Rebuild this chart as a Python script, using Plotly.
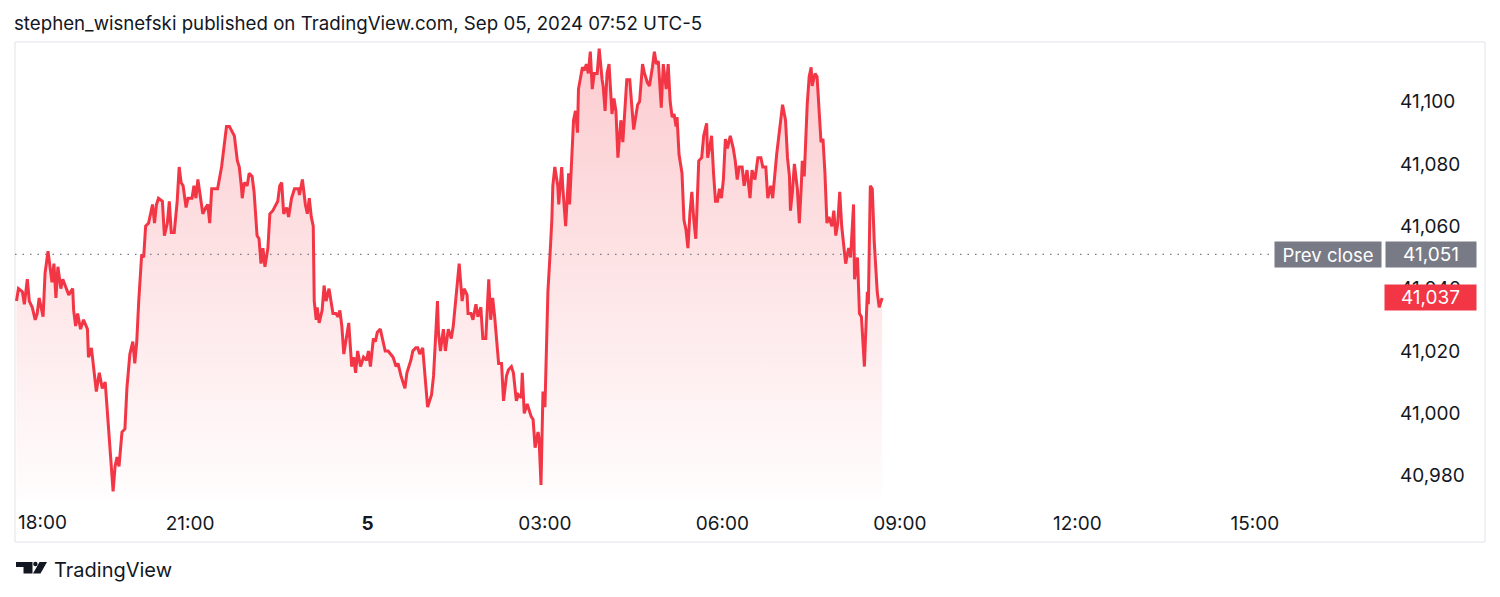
import plotly.graph_objects as go

# ---------------- data ----------------
# minutes elapsed since Sep 04 18:00 (UTC-5)
minutes = [
    4, 6, 10, 12, 15, 17, 20, 23, 25, 27, 31, 33, 36, 40, 42, 44, 46, 49, 51, 55,
    57, 61, 62, 64, 66, 69, 72, 76, 77, 80, 82, 85, 88, 91, 94, 96, 99, 102, 104, 106,
    108, 111, 114, 116, 119, 122, 124, 126, 128, 131, 133, 135, 138, 142, 144, 146, 148, 152, 154, 157,
    159, 161, 164, 167, 169, 171, 173, 176, 178, 182, 184, 186, 188, 191, 193, 196, 198, 200, 202, 205,
    208, 212, 214, 217, 220, 223, 225, 228, 230, 232, 233, 235, 238, 240, 243, 245, 248, 250, 252, 254,
    256, 259, 261, 264, 267, 269, 271, 273, 275, 278, 280, 283, 286, 290, 291, 294, 297, 299, 301, 303,
    305, 306, 308, 309, 311, 314, 316, 318, 321, 324, 325, 328, 330, 332, 334, 336, 339, 341, 344, 346,
    348, 350, 353, 356, 359, 361, 363, 366, 368, 370, 373, 376, 378, 381, 384, 386, 389, 391, 394, 396,
    398, 400, 404, 406, 409, 411, 413, 416, 418, 420, 421, 425, 427, 429, 431, 432, 434, 437, 439, 442,
    445, 447, 450, 453, 456, 458, 461, 462, 465, 467, 470, 472, 475, 477, 480, 482, 483, 485, 487, 489,
    493, 496, 498, 501, 503, 506, 508, 511, 513, 516, 517, 519, 522, 524, 526, 528, 530, 533, 534, 536,
    537, 538, 540, 542, 543, 545, 547, 548, 550, 553, 554, 557, 558, 561, 564, 565, 567, 569, 571, 573,
    574, 577, 578, 580, 582, 584, 586, 588, 590, 593, 595, 598, 599, 601, 603, 605, 608, 610, 612, 614,
    617, 619, 621, 623, 626, 628, 630, 634, 636, 639, 641, 644, 646, 649, 651, 653, 655, 658, 660, 663,
    665, 667, 669, 671, 673, 674, 676, 679, 681, 683, 685, 687, 689, 691, 693, 694, 696, 699, 701, 704,
    705, 707, 709, 711, 713, 715, 717, 719, 721, 723, 725, 728, 731, 733, 735, 737, 740, 742, 745, 748,
    750, 753, 756, 759, 761, 764, 766, 769, 771, 775, 777, 779, 781, 784, 786, 788, 789, 791, 793, 796,
    798, 800, 801, 803, 806, 808, 810, 811, 814, 816, 818, 820, 822, 824, 826, 828, 831, 833, 835, 837,
    839, 841, 845, 848, 850, 852, 853, 854, 857, 859, 861, 864, 867, 868, 870, 872, 873, 874, 877, 879, 882,
]
prices = [
    41036, 41040, 41039, 41035, 41043, 41036, 41034, 41030, 41032, 41037, 41031, 41045, 41052, 41042, 41048, 41037, 41047, 41040, 41043, 41040,
    41038, 41040, 41033, 41028, 41032, 41027, 41030, 41027, 41018, 41021, 41015, 41007, 41013, 41008, 41010, 41001, 40989, 40975, 40983, 40986,
    40983, 40994, 40995, 41008, 41019, 41023, 41016, 41023, 41036, 41051, 41050, 41060, 41061, 41067, 41061, 41067, 41069, 41068, 41057, 41061,
    41068, 41058, 41058, 41068, 41079, 41074, 41073, 41066, 41069, 41069, 41073, 41069, 41075, 41068, 41064, 41066, 41067, 41061, 41072, 41072,
    41072, 41079, 41085, 41092, 41092, 41090, 41089, 41081, 41079, 41073, 41069, 41074, 41073, 41077, 41076, 41071, 41057, 41056, 41048, 41053,
    41047, 41053, 41064, 41065, 41067, 41068, 41073, 41074, 41064, 41066, 41063, 41069, 41072, 41072, 41070, 41075, 41067, 41064, 41069, 41063,
    41060, 41036, 41030, 41034, 41029, 41033, 41041, 41036, 41040, 41034, 41032, 41032, 41031, 41033, 41028, 41019, 41026, 41029, 41015, 41018,
    41013, 41020, 41015, 41018, 41017, 41020, 41015, 41024, 41023, 41026, 41027, 41023, 41020, 41020, 41019, 41018, 41015, 41016, 41012, 41010,
    41008, 41013, 41017, 41020, 41021, 41021, 41019, 41021, 41013, 41007, 41002, 41006, 41012, 41024, 41036, 41026, 41020, 41027, 41020, 41027,
    41024, 41028, 41037, 41048, 41036, 41040, 41038, 41032, 41032, 41030, 41035, 41031, 41034, 41024, 41024, 41040, 41043, 41030, 41037, 41031,
    41016, 41016, 41004, 41012, 41014, 41015, 41013, 41004, 41006, 41005, 41013, 41000, 41003, 41001, 40999, 40998, 40989, 40994, 40992, 40977,
    40991, 41007, 41002, 41023, 41039, 41050, 41062, 41073, 41079, 41073, 41067, 41079, 41073, 41060, 41077, 41067, 41082, 41094, 41097, 41090,
    41104, 41109, 41111, 41110, 41112, 41109, 41116, 41104, 41109, 41109, 41117, 41107, 41105, 41097, 41109, 41112, 41096, 41101, 41097, 41082,
    41094, 41087, 41096, 41107, 41107, 41099, 41091, 41099, 41100, 41112, 41109, 41106, 41105, 41111, 41116, 41112, 41113, 41098, 41112, 41104,
    41112, 41100, 41095, 41096, 41092, 41095, 41083, 41077, 41062, 41059, 41053, 41064, 41071, 41062, 41056, 41064, 41081, 41082, 41089, 41093,
    41082, 41085, 41089, 41077, 41068, 41068, 41072, 41069, 41075, 41088, 41085, 41089, 41085, 41081, 41075, 41079, 41079, 41073, 41078, 41069,
    41078, 41075, 41082, 41082, 41079, 41079, 41069, 41073, 41069, 41083, 41089, 41095, 41099, 41094, 41082, 41076, 41065, 41071, 41080, 41072,
    41061, 41073, 41081, 41076, 41099, 41108, 41111, 41105, 41109, 41108, 41096, 41087, 41088, 41077, 41061, 41063, 41060, 41065, 41057, 41061,
    41071, 41060, 41048, 41053, 41050, 41064, 41067, 41043, 41050, 41032, 41031, 41015, 41039, 41035, 41073, 41072, 41064, 41055, 41039, 41034, 41037,
]
assert len(minutes) == len(prices)

prev_close = 41051
last_price = prices[-1]

price_ticks = [40980, 41000, 41020, 41040, 41060, 41080, 41100]
time_tick_minutes = [180, 360, 540, 720, 900, 1080, 1260]
time_tick_labels = ["21:00", "<b>5</b>", "03:00", "06:00", "09:00", "12:00", "15:00"]
first_time_label = "18:00"

title_text = "stephen_wisnefski published on TradingView.com, Sep 05, 2024 07:52 UTC-5"

# ---------------- styling ----------------
W, H = 1500, 597
RED = "#f23645"
GRAY = "#787b86"
TXT = "#131722"
FONT = "Inter"
TICK_SIZE = 19
Y_MIN, Y_MAX = 40972.2, 41119.1
X_MIN, X_MAX = 2.5, 1390.0


def px(x):
    return x / W


def py(y):
    return 1 - y / H


fig = go.Figure()

# baseline for the area fill
fig.add_trace(go.Scatter(
    x=[minutes[0], minutes[-1]], y=[Y_MIN, Y_MIN], mode="lines",
    line=dict(width=0, color="rgba(0,0,0,0)"), hoverinfo="skip", showlegend=False,
))
fig.add_trace(go.Scatter(
    x=minutes, y=prices, mode="lines",
    line=dict(color=RED, width=3),
    fill="tonexty",
    fillgradient=dict(
        type="vertical",
        colorscale=[[0, "rgba(242,54,69,0.01)"], [1, "rgba(242,54,69,0.26)"]],
        start=Y_MIN, stop=Y_MAX,
    ),
    showlegend=False,
))

shapes = [
    # outer frame
    dict(type="rect", xref="paper", yref="paper",
         x0=px(15), x1=px(1485), y0=py(542), y1=py(42),
         line=dict(color="#e0e3eb", width=1), layer="below"),
    # previous close dotted line
    dict(type="line", xref="paper", yref="y",
         x0=px(15), x1=px(1272), y0=prev_close, y1=prev_close,
         line=dict(color=GRAY, width=1.3, dash="1.5px,6px"), layer="above"),
]


def poly(points):
    return "M" + " L".join(f"{px(x):.5f},{py(y):.5f}" for x, y in points) + " Z"


# TradingView logo
shapes.append(dict(type="path", xref="paper", yref="paper",
                   path=poly([(16, 562), (32.5, 562), (32.5, 573.5), (23.5, 573.5), (23.5, 567), (16, 567)]),
                   fillcolor=TXT, line=dict(width=0)))
shapes.append(dict(type="circle", xref="paper", yref="paper",
                   x0=px(33.2), x1=px(37.6), y0=py(566.2), y1=py(561.8),
                   fillcolor=TXT, line=dict(width=0)))
shapes.append(dict(type="path", xref="paper", yref="paper",
                   path=poly([(39.5, 562), (47, 562), (40.5, 573.5), (33, 573.5)]),
                   fillcolor=TXT, line=dict(width=0)))

annotations = [
    dict(text=title_text, xref="paper", yref="paper", x=px(12), y=py(24),
         xanchor="left", yanchor="middle", showarrow=False,
         font=dict(family=FONT, size=18.7, color=TXT)),
    dict(text=first_time_label, xref="paper", yref="paper", x=px(16), y=py(522),
         xanchor="left", yanchor="middle", showarrow=False,
         font=dict(family=FONT, size=TICK_SIZE, color=TXT)),
    dict(text="Prev close", xref="paper", yref="y", x=px(1274), y=prev_close,
         xanchor="left", yanchor="middle", showarrow=False,
         width=106, height=25, bgcolor=GRAY, borderpad=0,
         font=dict(family=FONT, size=18.5, color="white")),
    dict(text=f"{prev_close:,}", xref="paper", yref="y", x=px(1385), y=prev_close,
         xanchor="left", yanchor="middle", showarrow=False,
         width=90, height=25, bgcolor=GRAY, borderpad=0,
         font=dict(family=FONT, size=TICK_SIZE, color="white")),
    dict(text=f"{last_price:,}", xref="paper", yref="y", x=px(1384), y=last_price,
         xanchor="left", yanchor="middle", showarrow=False,
         width=91, height=25, bgcolor=RED, borderpad=0,
         font=dict(family=FONT, size=TICK_SIZE, color="white")),
    dict(text="TradingView", xref="paper", yref="paper", x=px(52), y=py(570),
         xanchor="left", yanchor="middle", showarrow=False,
         font=dict(family=FONT, size=20, color=TXT)),
]

fig.update_layout(
    width=W, height=H, autosize=False,
    margin=dict(l=0, r=0, t=0, b=0),
    paper_bgcolor="white", plot_bgcolor="white",
    font=dict(family=FONT, size=18, color=TXT),
    showlegend=False,
    shapes=shapes,
    annotations=annotations,
    xaxis=dict(
        domain=[px(15), px(1383)], range=[X_MIN, X_MAX],
        tickvals=time_tick_minutes, ticktext=time_tick_labels,
        showgrid=False, zeroline=False, showline=False, ticks="",
        tickfont=dict(family=FONT, size=TICK_SIZE, color=TXT),
        ticklabelstandoff=10, fixedrange=True,
    ),
    yaxis=dict(
        domain=[py(500), py(42)], range=[Y_MIN, Y_MAX], side="right",
        tickvals=price_ticks, ticktext=[f"{v:,}" for v in price_ticks],
        showgrid=False, zeroline=False, showline=False, ticks="",
        tickfont=dict(family=FONT, size=TICK_SIZE, color=TXT),
        ticklabelstandoff=16, fixedrange=True,
    ),
)

fig.write_html(
    "out.html",
    config={"displayModeBar": False},
    post_script="document.body.style.margin='0';document.body.style.overflow='hidden';",
)
